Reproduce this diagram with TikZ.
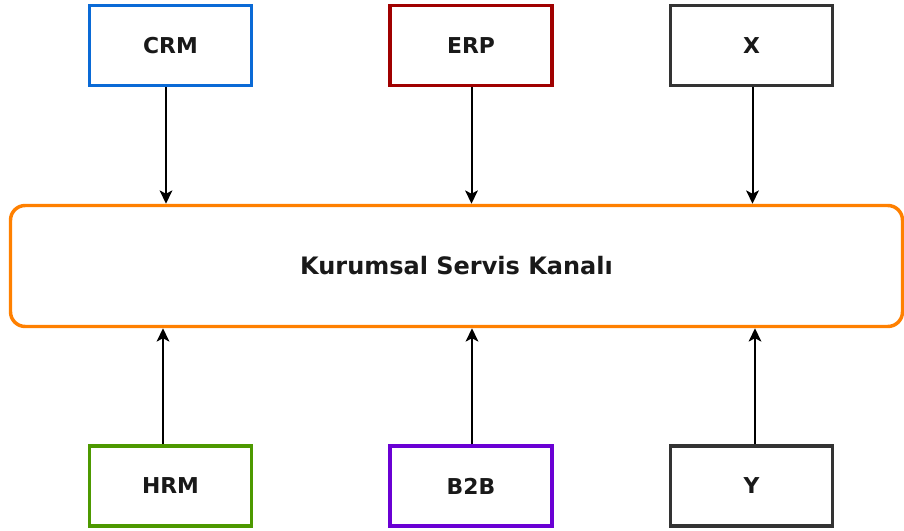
\documentclass[tikz,border=0pt]{standalone}
\usepackage{fontspec}
\setmainfont{DejaVu Sans}
\usetikzlibrary{arrows.meta}
\definecolor{crmblue}{HTML}{0A6AD6}
\definecolor{erpred}{HTML}{A00000}
\definecolor{hrmgreen}{HTML}{4D9900}
\definecolor{bbpurple}{HTML}{6A00D4}
\definecolor{sysgray}{HTML}{333333}
\definecolor{busorange}{HTML}{FF8000}
\tikzset{
  sysbox/.style={draw=#1, line width=2.6pt, fill=white, inner sep=0pt,
    minimum width=121.5pt, minimum height=60pt,
    font=\fontsize{16.4}{19}\selectfont\bfseries, text=black!90},
  busbox/.style={draw=busorange, line width=2.6pt, rounded corners=11pt,
    fill=white, inner sep=0pt, minimum width=669pt, minimum height=90.75pt,
    font=\fontsize{18}{21}\selectfont\bfseries, text=black!90},
  arr/.style={line width=1.5pt, -{Stealth[length=10pt,width=9.5pt,inset=2.5pt]}}
}
\begin{document}
\begin{tikzpicture}[x=0.75pt,y=-0.75pt]
  \useasboundingbox[fill=white] (0,0) rectangle (904,531);
  % central service bus
  \node[busbox] (ksk) at (456.5,266) {Kurumsal Servis Kanalı};
  % producer systems (top row)
  \node[sysbox=crmblue] (crm) at (170.5,45.5) {CRM};
  \node[sysbox=erpred]  (erp) at (471,45.5)   {ERP};
  \node[sysbox=sysgray] (x)   at (751.5,45.5) {X};
  % consumer systems (bottom row)
  \node[sysbox=hrmgreen] (hrm) at (170.5,486) {HRM};
  \node[sysbox=bbpurple] (b2b) at (471,486)   {B2B};
  \node[sysbox=sysgray]  (y)   at (751.5,486) {Y};
  % connectors into the bus
  \draw[arr] (crm.south -| 166,0)   -- (ksk.north -| 166,0);
  \draw[arr] (erp.south -| 471.5,0) -- (ksk.north -| 471.5,0);
  \draw[arr] (x.south -| 752.5,0)   -- (ksk.north -| 752.5,0);
  \draw[arr] (hrm.north -| 163,0)   -- (ksk.south -| 163,0);
  \draw[arr] (b2b.north -| 472,0)   -- (ksk.south -| 472,0);
  \draw[arr] (y.north -| 755,0)     -- (ksk.south -| 755,0);
\end{tikzpicture}
\end{document}
